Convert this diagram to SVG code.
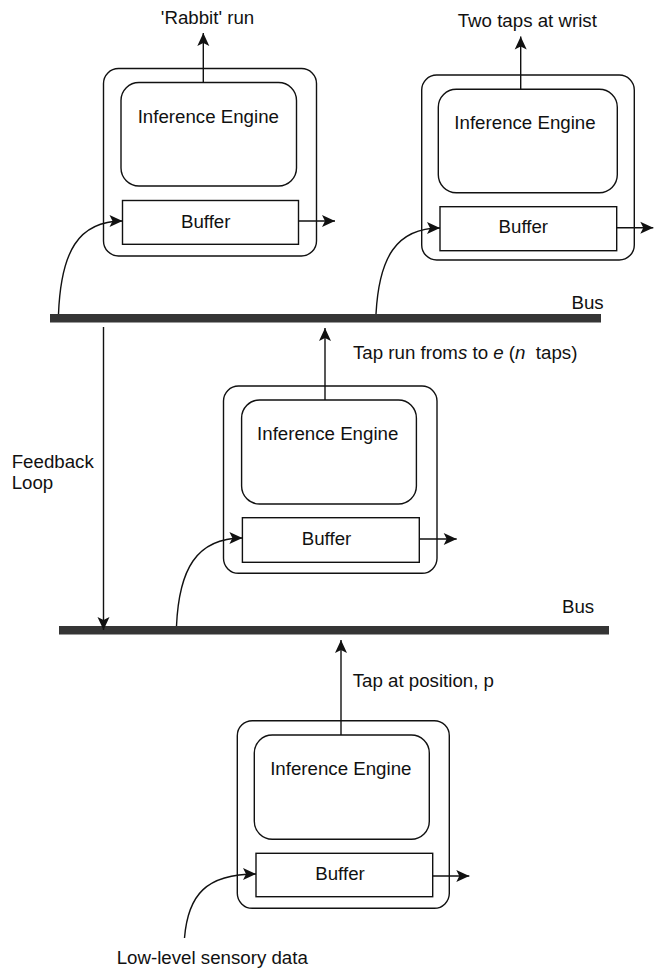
<svg xmlns="http://www.w3.org/2000/svg" width="657" height="969" viewBox="0 0 657 969">
  <style>
    .box { fill: none; stroke: #111; stroke-width: 1.4; }
    .wire { fill: none; stroke: #111; stroke-width: 1.4; }
    .bus { fill: #353535; }
    text { font-family: "Liberation Sans", Arial, sans-serif; font-size: 18.7px; fill: #111; }
    .mid { text-anchor: middle; }
  </style>
  <defs>
    <marker id="arrow" markerUnits="userSpaceOnUse" markerWidth="16" markerHeight="16" viewBox="-15 -8 16 16" refX="0" refY="0" orient="auto">
      <path d="M-13,-6 L0,0 L-13,6 L-10,0 z" fill="#111"/>
    </marker>
  </defs>
  <rect width="657" height="969" fill="#fff"/>

  <!-- buses -->
  <g id="bus-upper">
    <rect class="bus" x="50" y="314" width="551" height="8.5"/>
    <text x="571.5" y="308.5">Bus</text>
  </g>
  <g id="bus-lower">
    <rect class="bus" x="59" y="626" width="550" height="8.5"/>
    <text x="562" y="612.5">Bus</text>
  </g>

  <!-- module: 'Rabbit' run -->
  <g id="module-rabbit">
    <rect class="box" x="103.5" y="68.5" width="213" height="187.5" rx="15"/>
    <rect class="box" x="121" y="82.5" width="175.5" height="103.5" rx="18"/>
    <text class="mid" x="208.3" y="122.7">Inference Engine</text>
    <rect class="box" x="122.5" y="200.5" width="176" height="43.8"/>
    <text class="mid" x="205.7" y="228.3">Buffer</text>
  </g>

  <!-- module: two taps at wrist -->
  <g id="module-wrist">
    <rect class="box" x="421.7" y="75" width="212.6" height="185" rx="15"/>
    <rect class="box" x="438.3" y="89.3" width="179" height="103.4" rx="18"/>
    <text class="mid" x="525" y="129.3">Inference Engine</text>
    <rect class="box" x="440" y="206.7" width="176.7" height="44"/>
    <text class="mid" x="523.3" y="233.3">Buffer</text>
  </g>

  <!-- module: tap run -->
  <g id="module-taprun">
    <rect class="box" x="223.5" y="386" width="213.5" height="187.3" rx="15"/>
    <rect class="box" x="241.6" y="400" width="174.8" height="104" rx="18"/>
    <text class="mid" x="327.7" y="440">Inference Engine</text>
    <rect class="box" x="242.4" y="517.7" width="176.9" height="44.6"/>
    <text class="mid" x="326.5" y="545">Buffer</text>
  </g>

  <!-- module: tap at position -->
  <g id="module-position">
    <rect class="box" x="237.3" y="720.7" width="212" height="187.6" rx="15"/>
    <rect class="box" x="254.3" y="735" width="175" height="104.3" rx="18"/>
    <text class="mid" x="340.8" y="775">Inference Engine</text>
    <rect class="box" x="256" y="853.3" width="176.7" height="43.4"/>
    <text class="mid" x="340" y="880">Buffer</text>
  </g>

  <!-- connectors -->
  <g id="connectors">
    <!-- outputs from inference engines -->
    <line class="wire" x1="203.3" y1="82.5" x2="203.3" y2="33" marker-end="url(#arrow)"/>
    <line class="wire" x1="520.7" y1="89.3" x2="520.7" y2="36.5" marker-end="url(#arrow)"/>
    <line class="wire" x1="325" y1="400" x2="325" y2="328" marker-end="url(#arrow)"/>
    <line class="wire" x1="341" y1="735" x2="341" y2="640" marker-end="url(#arrow)"/>

    <!-- buffer outputs -->
    <line class="wire" x1="298.5" y1="221" x2="335" y2="221" marker-end="url(#arrow)"/>
    <line class="wire" x1="616.7" y1="227.7" x2="653.3" y2="227.7" marker-end="url(#arrow)"/>
    <line class="wire" x1="419.3" y1="539" x2="456.7" y2="539" marker-end="url(#arrow)"/>
    <line class="wire" x1="432.7" y1="876" x2="469.3" y2="876" marker-end="url(#arrow)"/>

    <!-- buffer inputs -->
    <path class="wire" d="M58.5,314 C61,252 78,221 122.5,221" marker-end="url(#arrow)"/>
    <path class="wire" d="M376,314 C379,258 396,228 440,228" marker-end="url(#arrow)"/>
    <path class="wire" d="M176.5,626 C179,570 196,538 242.4,538" marker-end="url(#arrow)"/>
    <path class="wire" d="M184.5,938 C188,895 206,874 256,874" marker-end="url(#arrow)"/>

    <!-- feedback loop -->
    <line class="wire" x1="103.5" y1="327" x2="103.5" y2="630" marker-end="url(#arrow)"/>
  </g>

  <!-- labels -->
  <g id="labels">
    <text class="mid" x="207.5" y="24">'Rabbit' run</text>
    <text class="mid" x="527.3" y="27.3">Two taps at wrist</text>
    <text x="353" y="359" xml:space="preserve">Tap run from<tspan font-style="italic">s</tspan> to <tspan font-style="italic">e</tspan> (<tspan font-style="italic">n</tspan>  taps)</text>
    <text x="11.7" y="467.5">Feedback</text>
    <text x="11.7" y="489">Loop</text>
    <text x="352.7" y="687.3">Tap at position, p</text>
    <text x="116.7" y="964">Low-level sensory data</text>
  </g>
</svg>
